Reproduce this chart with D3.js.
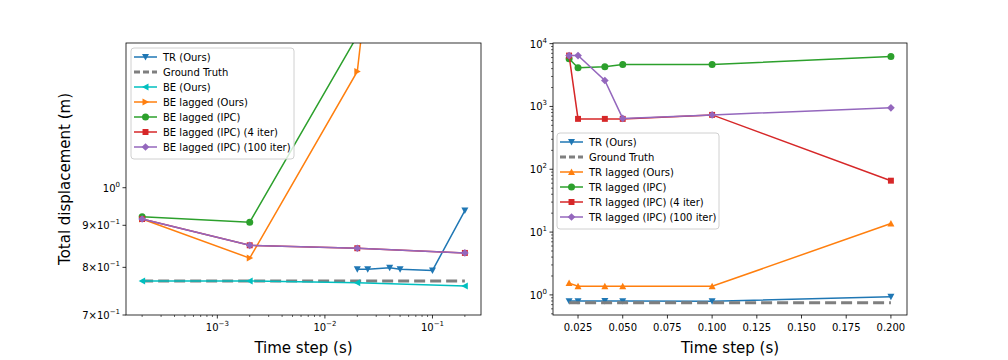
<!DOCTYPE html>
<html>
<head>
<meta charset="utf-8">
<script src="https://cdn.jsdelivr.net/npm/d3@7"></script>
<style>
  body { margin: 0; background: #fff; }
  svg text { font-family: "DejaVu Sans", sans-serif; fill: #000; }
</style>
</head>
<body>
<svg id="chart" width="1008" height="360"></svg>
<script>
// ---- data ----
const beSteps = [2e-4, 2e-3, 2e-2, 0.2];
const trSteps = [0.02, 0.025, 0.04, 0.05, 0.1, 0.2];

const trOurs = [0.796, 0.796, 0.799, 0.796, 0.793, 0.938];
const groundTruthLeft = [0.77, 0.77];
const groundTruthRight = [0.75, 0.75];

const beOurs = [0.770, 0.770, 0.766, 0.759];
const beLaggedOurs = [0.916, 0.821, 1.385, 19.4];
const beLaggedIPC = [0.922, 0.908, 1.53, 5.0];
const beLaggedIPC4 = [0.916, 0.851, 0.844, 0.833];
const beLaggedIPC100 = [0.916, 0.851, 0.844, 0.833];

const trLaggedOurs = [1.54, 1.37, 1.37, 1.37, 1.37, 13.7];
const trLaggedIPC = [5740, 4130, 4290, 4660, 4660, 6250];
const trLaggedIPC4 = [6460, 634, 634, 634, 734, 65.8];
const trLaggedIPC100 = [6460, 6460, 2590, 645, 734, 950];

const leftTicksX = [1e-3, 1e-2, 1e-1];
const leftTicksY = [0.7, 0.8, 0.9, 1.0];
const rightTicksX = [0.025, 0.05, 0.075, 0.1, 0.125, 0.15, 0.175, 0.2];
const rightTicksY = [1, 10, 100, 1000, 10000];

const C = {
  blue: '#1f77b4', orange: '#ff7f0e', green: '#2ca02c', red: '#d62728',
  purple: '#9467bd', gray: '#7f7f7f', cyan: '#00bfbf'
};

const svg = d3.select('#chart');

function markerPath(type, s) {
  const r = s / 2;
  switch (type) {
    case 'v': return `M${-r},${-r * 0.85}L${r},${-r * 0.85}L0,${r}Z`;
    case '^': return `M${-r},${r * 0.85}L${r},${r * 0.85}L0,${-r}Z`;
    case '<': return `M${r * 0.85},${-r}L${r * 0.85},${r}L${-r},0Z`;
    case '>': return `M${-r * 0.85},${-r}L${-r * 0.85},${r}L${r},0Z`;
    case 's': return `M${-r * 0.85},${-r * 0.85}h${1.7 * r}v${1.7 * r}h${-1.7 * r}Z`;
    case 'D': return `M0,${-r * 1.1}L${r * 1.1},0L0,${r * 1.1}L${-r * 1.1},0Z`;
    case 'o': return d3.symbol(d3.symbolCircle, Math.PI * r * r)();
  }
  return null;
}

// superscript label helper: base + exponent
function supLabel(sel, base, exp) {
  sel.append('tspan').text(base);
  sel.append('tspan').attr('dy', -5).attr('font-size', 7).text(exp);
}

function drawPanel(cfg) {
  const g = svg.append('g');
  const clipId = 'clip-' + cfg.id;
  svg.append('defs').append('clipPath').attr('id', clipId)
    .append('rect').attr('x', cfg.x0).attr('y', cfg.y0)
    .attr('width', cfg.x1 - cfg.x0).attr('height', cfg.y1 - cfg.y0);

  const x = cfg.xScale, y = cfg.yScale;
  const plot = g.append('g').attr('clip-path', `url(#${clipId})`);

  cfg.series.forEach(s => {
    const pts = s.xs.map((v, i) => [x(v), y(s.ys[i])]);
    plot.append('path')
      .attr('d', d3.line()(pts))
      .attr('fill', 'none')
      .attr('stroke', s.color)
      .attr('stroke-width', s.dash ? 3 : 1.5)
      .attr('stroke-dasharray', s.dash ? '11,5' : null);
    if (s.marker) {
      plot.selectAll(null).data(pts).enter().append('path')
        .attr('transform', d => `translate(${d[0]},${d[1]})`)
        .attr('d', markerPath(s.marker, 7))
        .attr('fill', s.color);
    }
  });

  // frame
  g.append('rect').attr('x', cfg.x0).attr('y', cfg.y0)
    .attr('width', cfg.x1 - cfg.x0).attr('height', cfg.y1 - cfg.y0)
    .attr('fill', 'none').attr('stroke', '#000').attr('stroke-width', 0.8);

  // x ticks
  cfg.xMajor.forEach(t => {
    const px = x(t);
    g.append('line').attr('x1', px).attr('x2', px).attr('y1', cfg.y1).attr('y2', cfg.y1 + 3.5)
      .attr('stroke', '#000').attr('stroke-width', 0.8);
    const lab = g.append('text').attr('x', px).attr('y', cfg.y1 + 16)
      .attr('text-anchor', 'middle').attr('font-size', 10);
    cfg.xLabel(lab, t);
  });
  (cfg.xMinor || []).forEach(t => {
    const px = x(t);
    g.append('line').attr('x1', px).attr('x2', px).attr('y1', cfg.y1).attr('y2', cfg.y1 + 2)
      .attr('stroke', '#000').attr('stroke-width', 0.6);
  });

  // y ticks
  cfg.yMajor.forEach(t => {
    const py = y(t);
    g.append('line').attr('x1', cfg.x0 - 3.5).attr('x2', cfg.x0).attr('y1', py).attr('y2', py)
      .attr('stroke', '#000').attr('stroke-width', 0.8);
    const lab = g.append('text').attr('x', cfg.x0 - 6).attr('y', py + 4)
      .attr('text-anchor', 'end').attr('font-size', 10);
    cfg.yLabel(lab, t);
  });
  (cfg.yMinor || []).forEach(t => {
    const py = y(t);
    g.append('line').attr('x1', cfg.x0 - 2).attr('x2', cfg.x0).attr('y1', py).attr('y2', py)
      .attr('stroke', '#000').attr('stroke-width', 0.6);
  });

  // x axis title
  g.append('text').attr('x', (cfg.x0 + cfg.x1) / 2).attr('y', cfg.y1 + 38)
    .attr('text-anchor', 'middle').attr('font-size', 15).text('Time step (s)');

  // legend
  const L = cfg.legend;
  const lg = g.append('g');
  lg.append('rect').attr('x', L.x).attr('y', L.y).attr('width', L.w)
    .attr('height', cfg.series.length * 15 + 6).attr('rx', 3)
    .attr('fill', 'rgba(255,255,255,0.8)').attr('stroke', '#d0d0d0').attr('stroke-width', 1);
  cfg.series.forEach((s, i) => {
    const cy = L.y + 9 + i * 15;
    lg.append('line').attr('x1', L.x + 3).attr('x2', L.x + 26).attr('y1', cy).attr('y2', cy)
      .attr('stroke', s.color).attr('stroke-width', s.dash ? 3 : 1.5)
      .attr('stroke-dasharray', s.dash ? '6,3' : null);
    if (s.marker) {
      lg.append('path').attr('transform', `translate(${L.x + 14.5},${cy})`)
        .attr('d', markerPath(s.marker, 7)).attr('fill', s.color);
    }
    lg.append('text').attr('x', L.x + 32).attr('y', cy + 4).attr('font-size', 10).text(s.name);
  });
}

// ---- left panel ----
const lx = d3.scaleLog().domain([Math.pow(10, -3.849), Math.pow(10, -0.549)]).range([126, 481]);
const ly = d3.scaleLog().domain([0.7, 1.5]).range([315, 43]);
const leftMinorX = [];
[-4, -3, -2, -1].forEach(k => {
  for (let m = 2; m <= 9; m++) {
    const v = m * Math.pow(10, k);
    if (v > lx.domain()[0] && v < lx.domain()[1]) leftMinorX.push(v);
  }
});
const xExtLeft = [2e-4, 0.2];

drawPanel({
  id: 'left', x0: 126, x1: 481, y0: 43, y1: 315,
  xScale: lx, yScale: ly,
  xMajor: leftTicksX, xMinor: leftMinorX,
  xLabel: (sel, t) => supLabel(sel, '10', '\u2212' + Math.round(-Math.log10(t))),
  yMajor: leftTicksY,
  yLabel: (sel, t) => {
    if (t === 1) supLabel(sel, '10', '0');
    else supLabel(sel, Math.round(t * 10) + '\u00d710', '\u22121');
  },
  legend: { x: 131, y: 48, w: 163 },
  series: [
    { name: 'TR (Ours)', xs: trSteps, ys: trOurs, color: C.blue, marker: 'v' },
    { name: 'Ground Truth', xs: xExtLeft, ys: groundTruthLeft, color: C.gray, dash: true },
    { name: 'BE (Ours)', xs: beSteps, ys: beOurs, color: C.cyan, marker: '<' },
    { name: 'BE lagged (Ours)', xs: beSteps, ys: beLaggedOurs, color: C.orange, marker: '>' },
    { name: 'BE lagged (IPC)', xs: beSteps, ys: beLaggedIPC, color: C.green, marker: 'o' },
    { name: 'BE lagged (IPC) (4 iter)', xs: beSteps, ys: beLaggedIPC4, color: C.red, marker: 's' },
    { name: 'BE lagged (IPC) (100 iter)', xs: beSteps, ys: beLaggedIPC100, color: C.purple, marker: 'D' }
  ]
});

svg.append('text')
  .attr('transform', 'translate(70,179) rotate(-90)')
  .attr('text-anchor', 'middle').attr('font-size', 15)
  .text('Total displacement (m)');

// ---- right panel ----
const rx = d3.scaleLinear().domain([0.011, 0.209]).range([553, 907]);
const ry = d3.scaleLog().domain([Math.pow(10, -0.32), Math.pow(10, 4.01)]).range([315, 43]);
const rightMinorY = [];
[-1, 0, 1, 2, 3].forEach(k => {
  for (let m = 2; m <= 9; m++) {
    const v = m * Math.pow(10, k);
    if (v > ry.domain()[0] && v < ry.domain()[1]) rightMinorY.push(v);
  }
});
const xExtRight = [0.02, 0.2];

drawPanel({
  id: 'right', x0: 553, x1: 907, y0: 43, y1: 315,
  xScale: rx, yScale: ry,
  xMajor: rightTicksX,
  xLabel: (sel, t) => sel.text(t.toFixed(3)),
  yMajor: rightTicksY, yMinor: rightMinorY,
  yLabel: (sel, t) => supLabel(sel, '10', String(Math.round(Math.log10(t)))),
  legend: { x: 557, y: 133, w: 162 },
  series: [
    { name: 'TR (Ours)', xs: trSteps, ys: trOurs, color: C.blue, marker: 'v' },
    { name: 'Ground Truth', xs: xExtRight, ys: groundTruthRight, color: C.gray, dash: true },
    { name: 'TR lagged (Ours)', xs: trSteps, ys: trLaggedOurs, color: C.orange, marker: '^' },
    { name: 'TR lagged (IPC)', xs: trSteps, ys: trLaggedIPC, color: C.green, marker: 'o' },
    { name: 'TR lagged (IPC) (4 iter)', xs: trSteps, ys: trLaggedIPC4, color: C.red, marker: 's' },
    { name: 'TR lagged (IPC) (100 iter)', xs: trSteps, ys: trLaggedIPC100, color: C.purple, marker: 'D' }
  ]
});
</script>
</body>
</html>
